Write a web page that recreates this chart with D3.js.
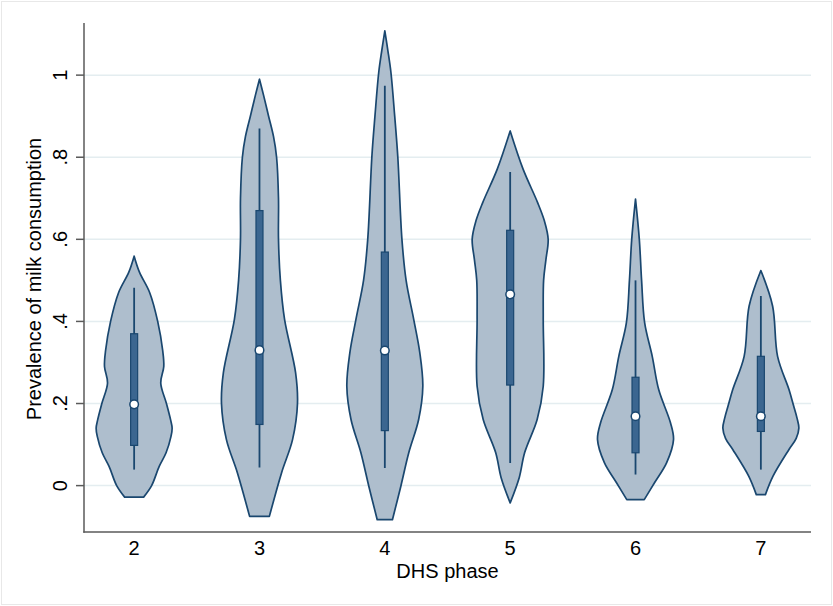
<!DOCTYPE html>
<html>
<head>
<meta charset="utf-8">
<script src="https://cdn.jsdelivr.net/npm/d3@7"></script>
<style>
  body { margin: 0; background: #fff; }
  text { font-family: "Liberation Sans", Arial, Helvetica, sans-serif; fill: #000; }
</style>
</head>
<body>
<div id="chart"></div>
<script>
// DHS phases on the x axis
const phases = [2, 3, 4, 5, 6, 7];
const yTicks = [0, 0.2, 0.4, 0.6, 0.8, 1];
const yTickLabels = ["0", ".2", ".4", ".6", ".8", "1"];

// violin outlines: [prevalence, relative density]
const violin2 = [[-0.028, 0.25], [0.0, 0.46], [0.047, 0.66], [0.08, 0.84], [0.12, 0.97], [0.14, 1.0], [0.16, 0.96],
  [0.2, 0.85], [0.25, 0.7], [0.29, 0.78], [0.33, 0.75], [0.4, 0.62], [0.47, 0.41], [0.52, 0.14], [0.559, 0]];
const violin3 = [[-0.075, 0.26], [0.031, 0.58], [0.112, 0.87], [0.2, 1.0], [0.275, 0.95], [0.405, 0.66], [0.5, 0.55],
  [0.6, 0.5], [0.7, 0.5], [0.8, 0.45], [0.85, 0.37], [0.9, 0.24], [0.95, 0.11], [0.99, 0]];
const violin4 = [[-0.083, 0.2], [-0.002, 0.42], [0.08, 0.63], [0.161, 0.89], [0.242, 1.0], [0.324, 0.92], [0.405, 0.76],
  [0.5, 0.56], [0.6, 0.45], [0.803, 0.34], [0.9, 0.26], [1.007, 0.16], [1.06, 0.08], [1.108, 0]];
const violin5 = [[-0.042, 0], [0.02, 0.24], [0.08, 0.38], [0.161, 0.71], [0.242, 0.87], [0.405, 0.87], [0.5, 0.88],
  [0.55, 0.94], [0.6, 1.0], [0.645, 0.9], [0.69, 0.72], [0.771, 0.34], [0.864, 0]];
const violin6 = [[-0.034, 0.23], [0.007, 0.5], [0.056, 0.82], [0.112, 1.0], [0.153, 0.92], [0.234, 0.61], [0.315, 0.44],
  [0.397, 0.24], [0.5, 0.16], [0.6, 0.1], [0.698, 0]];
const violin7 = [[-0.022, 0.12], [0.023, 0.32], [0.088, 0.74], [0.115, 0.93], [0.14, 1.0], [0.165, 0.95], [0.195, 0.86],
  [0.234, 0.74], [0.315, 0.44], [0.437, 0.31], [0.524, 0]];
const violins = [violin2, violin3, violin4, violin5, violin6, violin7];

// box plot statistics per phase
const q1 = [0.098, 0.149, 0.134, 0.245, 0.080, 0.132];
const medians = [0.198, 0.33, 0.329, 0.466, 0.169, 0.169];
const q3 = [0.37, 0.67, 0.569, 0.622, 0.264, 0.315];
const whiskLo = [0.039, 0.044, 0.043, 0.055, 0.027, 0.039];
const whiskHi = [0.482, 0.87, 0.974, 0.764, 0.50, 0.462];

const width = 833, height = 606;
const navy = "#1a476f";

const svg = d3.select("#chart").append("svg")
  .attr("width", width).attr("height", height);

// faint outer frame
svg.append("rect")
  .attr("x", 1.5).attr("y", 1.5).attr("width", width - 3).attr("height", height - 3)
  .attr("fill", "none").attr("stroke", "#e8e8e8");

const x = d3.scaleLinear().domain([1.6, 7.4]).range([84, 811]);
const y = d3.scaleLinear().domain([-0.113, 1.127]).range([532, 23]);
const w = d3.scaleLinear().domain([0, 1]).range([0, 38]);

// gridlines
svg.append("g")
  .selectAll("line")
  .data(yTicks)
  .join("line")
  .attr("x1", x(1.6)).attr("x2", x(7.4))
  .attr("y1", d => y(d)).attr("y2", d => y(d))
  .attr("stroke", "#e4edf0").attr("stroke-width", 1.5);

// violins
const area = d3.area()
  .curve(d3.curveCatmullRom)
  .y(d => y(d[0]));

svg.append("g")
  .selectAll("path")
  .data(violins)
  .join("path")
  .attr("d", (v, i) => area
    .x0(d => x(phases[i]) - w(d[1]))
    .x1(d => x(phases[i]) + w(d[1]))(v))
  .attr("fill", "#aebecd")
  .attr("stroke", navy)
  .attr("stroke-width", 1.7)
  .attr("stroke-linejoin", "round");

// whiskers
svg.append("g")
  .selectAll("line")
  .data(phases)
  .join("line")
  .attr("x1", d => x(d)).attr("x2", d => x(d))
  .attr("y1", (d, i) => y(whiskLo[i])).attr("y2", (d, i) => y(whiskHi[i]))
  .attr("stroke", navy).attr("stroke-width", 1.8);

// boxes
svg.append("g")
  .selectAll("rect")
  .data(phases)
  .join("rect")
  .attr("x", d => x(d) - 3.5).attr("width", 7)
  .attr("y", (d, i) => y(q3[i]))
  .attr("height", (d, i) => y(q1[i]) - y(q3[i]))
  .attr("fill", "#3b6690")
  .attr("stroke", navy).attr("stroke-width", 1.2);

// medians
svg.append("g")
  .selectAll("circle")
  .data(phases)
  .join("circle")
  .attr("cx", d => x(d))
  .attr("cy", (d, i) => y(medians[i]))
  .attr("r", 4.3)
  .attr("fill", "#fff")
  .attr("stroke", navy).attr("stroke-width", 1.5);

// axes
const axisColor = "#5a5a5a";
svg.append("line")
  .attr("x1", 84).attr("x2", 84).attr("y1", 23).attr("y2", 532.7)
  .attr("stroke", axisColor).attr("stroke-width", 1.5);
svg.append("line")
  .attr("x1", 83.3).attr("x2", 811).attr("y1", 532).attr("y2", 532)
  .attr("stroke", axisColor).attr("stroke-width", 1.5);

const yAxis = svg.append("g");
yAxis.selectAll("line")
  .data(yTicks)
  .join("line")
  .attr("x1", 76).attr("x2", 84)
  .attr("y1", d => y(d)).attr("y2", d => y(d))
  .attr("stroke", axisColor).attr("stroke-width", 1.5);
yAxis.selectAll("text")
  .data(yTicks)
  .join("text")
  .attr("transform", d => `translate(67,${y(d)}) rotate(-90)`)
  .attr("text-anchor", "middle")
  .style("font-size", "20px")
  .text((d, i) => yTickLabels[i]);

svg.append("g")
  .selectAll("text")
  .data(phases)
  .join("text")
  .attr("x", d => x(d)).attr("y", 555)
  .attr("text-anchor", "middle")
  .style("font-size", "20px")
  .text(d => d);

svg.append("text")
  .attr("x", (84 + 811) / 2).attr("y", 578)
  .attr("text-anchor", "middle")
  .style("font-size", "20px")
  .text("DHS phase");

svg.append("text")
  .attr("transform", "translate(41,279) rotate(-90)")
  .attr("text-anchor", "middle")
  .style("font-size", "20px")
  .text("Prevalence of milk consumption");
</script>
</body>
</html>
